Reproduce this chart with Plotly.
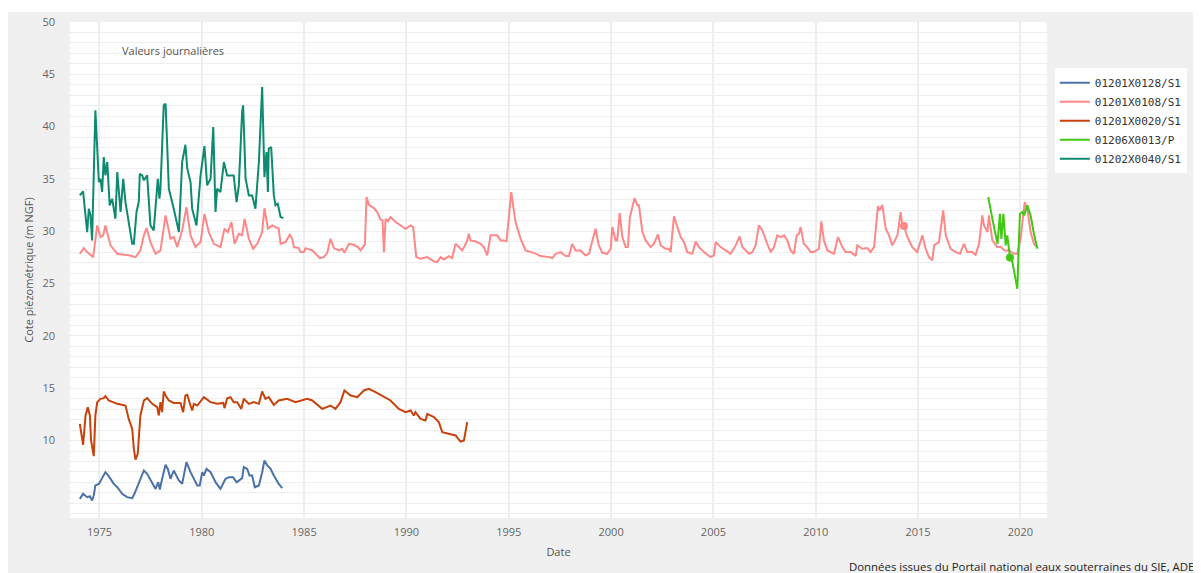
import plotly.graph_objects as go

# 01201X0128/S1
BLUE_X = [1974.04, 1974.20, 1974.40, 1974.53, 1974.64, 1974.72, 1974.80, 1974.97, 1975.13, 1975.29,
          1975.45, 1975.70, 1975.87, 1976.11, 1976.35, 1976.60, 1976.71, 1976.92, 1977.17, 1977.33,
          1977.58, 1977.74, 1977.87, 1977.95, 1978.06, 1978.23, 1978.34, 1978.47, 1978.63, 1978.88,
          1979.04, 1979.25, 1979.45, 1979.61, 1979.78, 1979.90, 1980.02, 1980.10, 1980.23, 1980.43,
          1980.67, 1980.91, 1981.16, 1981.32, 1981.53, 1981.70, 1981.97, 1982.05, 1982.22, 1982.33,
          1982.46, 1982.59, 1982.79, 1982.95, 1983.06, 1983.20, 1983.36, 1983.52, 1983.76, 1983.93]
BLUE_Y = [4.43, 4.91, 4.59, 4.68, 4.27, 4.75, 5.71, 5.86, 6.41, 6.98,
          6.60, 5.86, 5.54, 4.91, 4.59, 4.49, 4.91, 6.02, 7.14, 6.82,
          6.02, 5.38, 6.02, 5.33, 6.34, 7.68, 7.29, 6.34, 7.14, 6.19,
          5.86, 7.93, 6.98, 6.34, 5.71, 5.71, 6.98, 6.66, 7.29, 6.98,
          6.02, 5.38, 6.34, 6.50, 6.50, 6.02, 6.41, 7.46, 7.29, 6.66,
          6.66, 5.54, 5.71, 6.98, 8.10, 7.62, 7.29, 6.66, 5.86, 5.45]

# 01201X0108/S1
PINK_X = [1974.04, 1974.23, 1974.40, 1974.69, 1974.89, 1975.05, 1975.18, 1975.29, 1975.54, 1975.87,
          1976.19, 1976.43, 1976.76, 1977.00, 1977.17, 1977.30, 1977.49, 1977.74, 1977.98, 1978.23,
          1978.47, 1978.63, 1978.80, 1979.04, 1979.25, 1979.45, 1979.69, 1979.94, 1980.13, 1980.34,
          1980.59, 1980.91, 1981.11, 1981.27, 1981.45, 1981.60, 1981.81, 1981.97, 1982.09, 1982.30,
          1982.51, 1982.71, 1982.95, 1983.06, 1983.23, 1983.44, 1983.76, 1983.85, 1984.09, 1984.30,
          1984.42, 1984.50, 1984.74, 1984.82, 1984.99, 1985.07, 1985.40, 1985.56, 1985.77, 1985.96,
          1986.13, 1986.29, 1986.45, 1986.70, 1986.86, 1986.97, 1987.19, 1987.43, 1987.62, 1987.76,
          1987.97, 1988.05, 1988.16, 1988.41, 1988.57, 1988.73, 1988.83, 1988.90, 1988.98, 1989.09,
          1989.22, 1989.47, 1989.71, 1989.96, 1990.20, 1990.33, 1990.48, 1990.69, 1991.02, 1991.34,
          1991.50, 1991.67, 1991.83, 1992.07, 1992.23, 1992.40, 1992.56, 1992.73, 1992.94, 1993.05,
          1993.13, 1993.38, 1993.62, 1993.78, 1993.95, 1994.11, 1994.44, 1994.60, 1994.76, 1994.89,
          1995.12, 1995.33, 1995.58, 1995.82, 1996.23, 1996.55, 1996.96, 1997.13, 1997.29, 1997.53,
          1997.78, 1997.94, 1998.10, 1998.26, 1998.51, 1998.75, 1998.92, 1999.08, 1999.24, 1999.40,
          1999.57, 1999.81, 1999.98, 2000.06, 2000.22, 2000.30, 2000.42, 2000.55, 2000.71, 2000.82,
          2000.92, 2001.04, 2001.15, 2001.28, 2001.36, 2001.53, 2001.69, 2001.93, 2002.09, 2002.29,
          2002.42, 2002.66, 2002.83, 2002.91, 2003.07, 2003.24, 2003.40, 2003.56, 2003.72, 2003.97,
          2004.13, 2004.29, 2004.54, 2004.86, 2005.02, 2005.11, 2005.35, 2005.60, 2005.84, 2006.09,
          2006.28, 2006.41, 2006.57, 2006.74, 2006.90, 2007.06, 2007.22, 2007.39, 2007.63, 2007.80,
          2007.96, 2008.12, 2008.29, 2008.45, 2008.61, 2008.77, 2008.93, 2009.07, 2009.18, 2009.26,
          2009.42, 2009.58, 2009.75, 2009.91, 2010.16, 2010.27, 2010.40, 2010.57, 2010.89, 2011.09,
          2011.30, 2011.46, 2011.71, 2011.95, 2012.03, 2012.28, 2012.52, 2012.68, 2012.85, 2013.04,
          2013.12, 2013.25, 2013.42, 2013.58, 2013.74, 2013.99, 2014.15, 2014.23, 2014.31, 2014.48,
          2014.72, 2014.96, 2015.21, 2015.37, 2015.53, 2015.70, 2015.78, 2016.02, 2016.23, 2016.35,
          2016.59, 2016.84, 2017.05, 2017.24, 2017.41, 2017.65, 2017.81, 2017.98, 2018.14, 2018.22,
          2018.39, 2018.46, 2018.63, 2018.87, 2019.04, 2019.23, 2019.44, 2019.69, 2019.85, 2020.01,
          2020.21, 2020.34, 2020.50, 2020.66, 2020.80]
PINK_Y = [27.85, 28.39, 28.01, 27.53, 30.56, 29.45, 29.61, 30.56, 28.65, 27.85,
          27.75, 27.70, 27.53, 28.17, 29.61, 30.31, 28.97, 27.85, 28.17, 31.52,
          29.28, 29.45, 28.49, 30.09, 32.31, 29.61, 28.49, 28.97, 31.67, 29.92,
          28.80, 28.49, 30.24, 29.92, 30.88, 28.80, 29.76, 29.61, 31.19, 29.28,
          28.33, 28.80, 29.92, 32.20, 30.24, 30.56, 30.24, 28.80, 28.97, 29.67,
          29.28, 28.49, 28.39, 28.01, 28.01, 28.39, 28.17, 27.85, 27.44, 27.53,
          27.94, 29.28, 28.39, 28.17, 28.33, 27.94, 28.80, 28.71, 28.49, 28.17,
          28.75, 33.27, 32.53, 32.22, 31.84, 31.14, 31.04, 28.01, 31.19, 30.95,
          31.36, 30.88, 30.56, 30.24, 30.56, 30.40, 27.53, 27.37, 27.53, 27.12,
          27.06, 27.53, 27.31, 27.63, 27.44, 28.80, 28.49, 28.17, 28.97, 29.76,
          29.13, 29.03, 28.80, 28.49, 27.70, 29.61, 29.61, 29.13, 29.13, 29.03,
          33.75, 30.88, 29.28, 28.17, 27.94, 27.63, 27.53, 27.44, 27.85, 28.01,
          27.63, 27.63, 28.80, 28.17, 28.17, 27.70, 27.85, 29.13, 30.24, 28.65,
          27.94, 27.85, 28.33, 30.40, 29.13, 29.13, 31.77, 29.45, 28.49, 28.49,
          31.36, 32.31, 33.17, 32.48, 32.48, 29.92, 29.13, 28.49, 28.80, 29.70,
          28.65, 28.33, 28.33, 28.01, 31.42, 30.40, 29.45, 28.97, 28.01, 27.85,
          29.03, 28.49, 28.01, 27.53, 27.70, 28.97, 28.49, 28.17, 27.85, 28.65,
          29.51, 28.49, 28.17, 27.85, 28.01, 28.65, 30.56, 30.09, 28.80, 28.01,
          28.49, 29.61, 29.45, 29.61, 29.13, 28.17, 27.85, 29.61, 29.76, 30.40,
          28.80, 28.49, 28.01, 28.01, 28.33, 30.95, 29.13, 28.17, 27.85, 29.45,
          28.49, 28.01, 28.01, 27.63, 28.65, 28.33, 28.39, 28.01, 28.49, 32.41,
          32.00, 32.53, 30.24, 29.61, 28.65, 29.61, 31.84, 30.56, 30.50, 29.45,
          28.49, 28.01, 29.61, 28.33, 27.53, 27.22, 28.65, 28.97, 32.00, 29.61,
          28.33, 28.01, 27.85, 28.80, 28.01, 28.01, 27.75, 28.80, 31.52, 30.56,
          29.92, 31.52, 29.13, 28.49, 28.49, 28.17, 28.17, 27.85, 27.85, 29.28,
          32.79, 32.15, 29.92, 28.80, 28.49]
PINK_DOT_X = [2014.31]
PINK_DOT_Y = [30.50]

# 01201X0020/S1
ORANGE_X = [1974.04, 1974.20, 1974.32, 1974.43, 1974.53, 1974.59, 1974.72, 1974.80, 1974.89, 1975.05,
            1975.21, 1975.29, 1975.45, 1975.87, 1976.27, 1976.43, 1976.60, 1976.68, 1976.76, 1976.87,
            1977.00, 1977.17, 1977.33, 1977.58, 1977.82, 1977.90, 1977.98, 1978.06, 1978.14, 1978.23,
            1978.39, 1978.63, 1978.96, 1979.09, 1979.20, 1979.29, 1979.45, 1979.53, 1979.61, 1979.78,
            1980.10, 1980.43, 1980.75, 1981.05, 1981.11, 1981.24, 1981.40, 1981.56, 1981.73, 1981.93,
            1982.05, 1982.30, 1982.54, 1982.79, 1982.95, 1983.11, 1983.27, 1983.52, 1983.76, 1984.17,
            1984.58, 1984.82, 1985.15, 1985.40, 1985.88, 1986.29, 1986.53, 1986.78, 1986.97, 1987.27,
            1987.60, 1987.92, 1988.16, 1988.49, 1988.90, 1989.22, 1989.63, 1989.96, 1990.20, 1990.36,
            1990.44, 1990.69, 1990.93, 1991.02, 1991.34, 1991.58, 1991.75, 1992.07, 1992.40, 1992.64,
            1992.81, 1992.97]
ORANGE_Y = [11.60, 9.59, 12.40, 13.19, 12.40, 10.01, 8.51, 12.40, 13.67, 13.99,
            14.05, 14.24, 13.83, 13.51, 13.35, 12.07, 11.12, 9.21, 8.19, 8.73,
            12.40, 13.83, 14.05, 13.51, 13.19, 12.40, 13.67, 12.71, 14.69, 14.31,
            13.83, 13.60, 13.60, 12.71, 14.31, 14.37, 13.35, 12.88, 13.51, 13.35,
            14.15, 13.67, 13.51, 13.60, 13.10, 14.05, 14.15, 13.67, 13.67, 13.03,
            13.99, 13.51, 13.67, 13.51, 14.69, 13.99, 14.15, 13.41, 13.83, 13.99,
            13.67, 13.83, 13.99, 13.83, 13.03, 13.35, 13.03, 13.67, 14.79, 14.31,
            14.15, 14.79, 14.94, 14.63, 14.15, 13.83, 13.03, 12.72, 12.88, 12.40,
            12.72, 12.07, 11.92, 12.55, 12.24, 11.76, 10.80, 10.64, 10.49, 9.91,
            10.01, 11.76]

# 01206X0013/P
GREEN_X = [2018.39, 2018.44, 2018.63, 2018.88, 2019.00, 2019.07, 2019.17, 2019.28, 2019.36, 2019.49,
           2019.61, 2019.77, 2019.85, 2019.93, 2019.98, 2020.10, 2020.18, 2020.34, 2020.50, 2020.66,
           2020.83]
GREEN_Y = [33.11, 33.17, 31.19, 28.80, 31.67, 29.28, 31.67, 28.65, 29.61, 27.50,
           27.06, 25.14, 24.50, 29.28, 31.67, 31.84, 31.52, 32.48, 31.52, 29.76,
           28.33]
GREEN_DOT_X = [2019.49]
GREEN_DOT_Y = [27.50]

# 01202X0040/S1
TEAL_X = [1974.04, 1974.20, 1974.40, 1974.48, 1974.56, 1974.64, 1974.80, 1974.97, 1975.05, 1975.13,
          1975.21, 1975.29, 1975.38, 1975.50, 1975.62, 1975.78, 1975.87, 1976.03, 1976.16, 1976.27,
          1976.60, 1976.68, 1976.81, 1976.92, 1976.97, 1977.09, 1977.17, 1977.33, 1977.49, 1977.65,
          1977.85, 1977.93, 1977.98, 1978.14, 1978.23, 1978.39, 1978.63, 1978.88, 1979.04, 1979.20,
          1979.29, 1979.45, 1979.53, 1979.74, 1979.94, 1980.13, 1980.26, 1980.43, 1980.56, 1980.67,
          1980.75, 1980.91, 1981.08, 1981.24, 1981.40, 1981.56, 1981.70, 1981.81, 1981.97, 1982.02,
          1982.14, 1982.30, 1982.46, 1982.62, 1982.79, 1982.95, 1983.06, 1983.16, 1983.23, 1983.27,
          1983.39, 1983.52, 1983.60, 1983.71, 1983.85, 1983.98]
TEAL_Y = [33.43, 33.81, 29.92, 32.15, 31.55, 29.13, 41.56, 34.70, 35.02, 33.75,
          37.09, 35.34, 36.62, 32.48, 33.11, 31.19, 35.66, 31.84, 35.02, 32.79,
          28.80, 28.80, 31.84, 32.79, 35.50, 35.34, 34.87, 35.34, 30.56, 30.09,
          35.02, 33.11, 34.06, 42.04, 42.19, 34.06, 32.15, 29.92, 36.62, 38.27,
          35.98, 34.70, 32.15, 30.56, 35.34, 38.15, 34.39, 35.02, 39.96, 31.84,
          34.06, 33.75, 36.62, 35.34, 35.34, 35.34, 32.79, 34.39, 41.40, 42.04,
          35.02, 33.43, 33.43, 32.15, 36.62, 43.79, 35.18, 37.57, 33.75, 37.89,
          38.05, 33.43, 32.48, 32.63, 31.36, 31.26]

SERIES = [
    ("01201X0128/S1", BLUE_X, BLUE_Y, "#4a72a8"),
    ("01201X0108/S1", PINK_X, PINK_Y, "#ff8787"),
    ("01201X0020/S1", ORANGE_X, ORANGE_Y, "#c8420c"),
    ("01206X0013/P", GREEN_X, GREEN_Y, "#41c813"),
    ("01202X0040/S1", TEAL_X, TEAL_Y, "#0d8a6f"),
]

YEAR_TICKS = [1975, 1980, 1985, 1990, 1995, 2000, 2005, 2010, 2015, 2020]
LEVEL_TICKS = [10, 15, 20, 25, 30, 35, 40, 45, 50]

fig = go.Figure()
for name, xs, ys, color in SERIES:
    fig.add_trace(go.Scatter(x=xs, y=ys, name=name, mode="lines",
                             line=dict(color=color, width=2)))

fig.add_trace(go.Scatter(x=PINK_DOT_X, y=PINK_DOT_Y, mode="markers", showlegend=False,
                         marker=dict(color="#ff8787", size=8)))
fig.add_trace(go.Scatter(x=GREEN_DOT_X, y=GREEN_DOT_Y, mode="markers", showlegend=False,
                         marker=dict(color="#41c813", size=8)))

# the page body adds an 8px white margin, so the figure is 8px smaller
grid = "#eeeeee"
fig.update_layout(
    width=1193, height=565,
    margin=dict(l=62, r=154, t=14, b=55, autoexpand=False),
    paper_bgcolor="#f0f0f0", plot_bgcolor="white",
    font=dict(family="Open Sans, sans-serif", size=11, color="#666"),
    showlegend=True,
    legend=dict(x=1.008, y=0.907, xanchor="left", yanchor="top", bgcolor="white",
                font=dict(family="DejaVu Sans Mono", size=11, color="#333"),
                tracegroupgap=0),
    xaxis=dict(range=[1973.56, 2021.3], tickvals=YEAR_TICKS, showgrid=True,
               gridcolor=grid, gridwidth=2, zeroline=False, showline=False,
               ticklabelstandoff=6, automargin=False,
               title=dict(text="Date", font=dict(size=11, color="#555"), standoff=10)),
    yaxis=dict(range=[2.6, 50], tickvals=LEVEL_TICKS, showgrid=True,
               gridcolor=grid, gridwidth=1, zeroline=False, showline=False,
               ticklabelstandoff=14, automargin=False,
               minor=dict(dtick=1, tick0=0, showgrid=True, gridcolor=grid, gridwidth=1),
               title=dict(text="Cote piézométrique (m NGF)", font=dict(size=11, color="#555"),
                          standoff=6)),
    shapes=[
        dict(type="rect", xref="paper", yref="paper", layer="below",
             x0=-0.08, x1=1.17, y0=1.0202, y1=1.04, fillcolor="white", line=dict(width=0)),
    ],
    annotations=[
        dict(text="Valeurs journalières", xref="paper", yref="paper", x=0.0512, y=0.9435,
             xanchor="left", yanchor="middle", showarrow=False,
             font=dict(size=11, color="#555")),
        dict(text="Données issues du Portail national eaux souterraines du SIE, ADES",
             xref="paper", yref="paper", x=0.7953, y=-0.098, xanchor="left", yanchor="middle",
             showarrow=False, font=dict(size=11.4, color="#222")),
    ],
)

fig.write_html("out.html")
